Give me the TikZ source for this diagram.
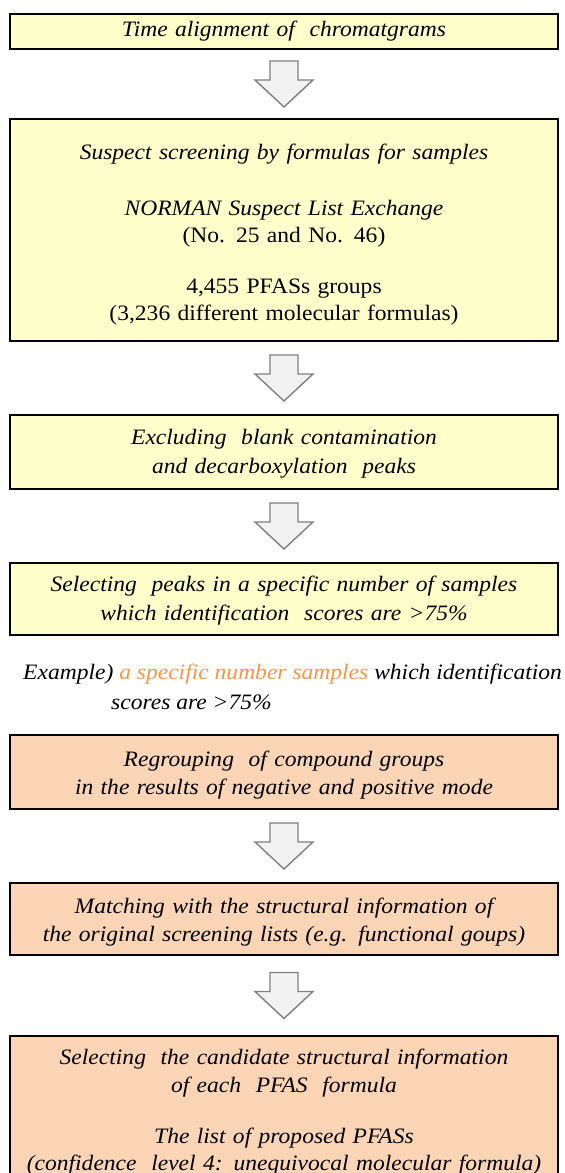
\documentclass[tikz,border=0pt]{standalone}
\usepackage{fontspec}
\setmainfont{Liberation Serif}[FakeStretch=1.07]
\usetikzlibrary{calc,shadows}

\definecolor{paleyellow}{HTML}{FFFFCC}
\definecolor{paleorange}{HTML}{FBD5B5}
\definecolor{accentorange}{HTML}{F79646}
\definecolor{arrowgray}{HTML}{7F7F7F}
\definecolor{arrowfill}{HTML}{F2F2F2}

% invisible struts that steady the first and last line of a box
\newcommand\topstrut{\rule{0pt}{19pt}}
\newcommand\lowstrut[1]{\rule[-#1]{0pt}{0pt}}

\tikzset{
  stepbox/.style={draw=black, line width=1.8pt, minimum width=548pt,
    text width=540pt, align=center, inner sep=0pt,
    font=\fontsize{22}{28.5}\selectfont\itshape,
    drop shadow={shadow xshift=1.3pt, shadow yshift=-1.3pt, fill=black, opacity=0.3}},
  yellowbox/.style={stepbox, fill=paleyellow},
  orangebox/.style={stepbox, fill=paleorange},
  blockarrow/.style={draw=arrowgray, fill=arrowfill, line width=1.4pt, line join=miter},
  exampletext/.style={inner sep=0pt, font=\fontsize{22}{28.5}\selectfont\itshape},
}

% hollow block arrow centred in the gap between two boxes
\newcommand\flowarrow[2]{%
  \path (#1.south) -- (#2.north) coordinate[pos=0.5] (#1-#2-mid);
  \draw[blockarrow]
    ($(#1-#2-mid)+(-14,-23)$) -- ($(#1-#2-mid)+(14,-23)$) --
    ($(#1-#2-mid)+(14,-4)$) -- ($(#1-#2-mid)+(29,-4)$) --
    ($(#1-#2-mid)+(0,23)$) -- ($(#1-#2-mid)+(-29,-4)$) --
    ($(#1-#2-mid)+(-14,-4)$) -- cycle;}

\begin{document}
\begin{tikzpicture}[x=1pt, y=-1pt]
  \useasboundingbox (0,0) rectangle (565,1173);
  \clip (0,0) rectangle (565,1173);

  \node[yellowbox, minimum height=35pt] (s1) at (284,31.5)
    {Time alignment of \ chromatgrams};

  \node[yellowbox, minimum height=222pt, font=\fontsize{22}{27}\selectfont\itshape] (s2) at (284,230)
    {\rule{0pt}{24pt}Suspect screening by formulas for samples\\[29pt]
     NORMAN Suspect List Exchange\\
     {\upshape (No. 25 and No. 46)}\\[24pt]
     {\upshape 4,455 PFASs groups}\\
     {\upshape (3,236 different molecular formulas)}};

  \node[yellowbox, minimum height=74pt] (s3) at (284,452)
    {\topstrut Excluding \ blank contamination\\
     and decarboxylation \ peaks};

  \node[yellowbox, minimum height=72pt] (s4) at (284,599)
    {\topstrut Selecting \ peaks in a specific number of samples\\
     which identification \ scores are >75\%};

  \node[exampletext, anchor=base west] (ex1) at (23,679)
    {Example) \textcolor{accentorange}{a specific number samples} which identification};
  \node[exampletext, anchor=base west] (ex2) at (111,709)
    {scores are >75\%};

  \node[orangebox, minimum height=74pt] (s5) at (284,772)
    {\rule{0pt}{22pt}Regrouping \ of compound groups\\
     in the results of negative and positive mode};

  \node[orangebox, minimum height=72pt] (s6) at (284,919)
    {\rule{0pt}{22pt}Matching with the structural information of\\
     the original screening lists (e.g. functional goups)};

  \node[orangebox, minimum height=154pt, font=\fontsize{22}{27.5}\selectfont\itshape] (s7) at (284,1113)
    {\rule{0pt}{24pt}Selecting \ the candidate structural information\\
     of each \ PFAS \ formula\\[23.5pt]
     The list of proposed PFASs\\
     (confidence \ level 4: unequivocal molecular formula)\lowstrut{15pt}};

  \flowarrow{s1}{s2}
  \flowarrow{s2}{s3}
  \flowarrow{s3}{s4}
  \flowarrow{s5}{s6}
  \flowarrow{s6}{s7}
\end{tikzpicture}
\end{document}
